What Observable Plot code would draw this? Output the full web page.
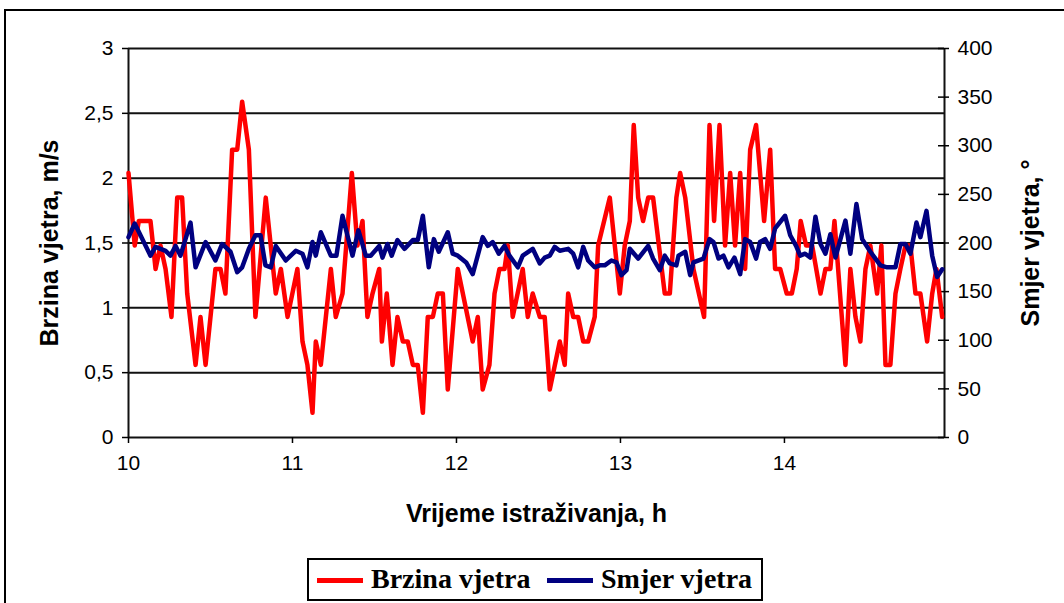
<!DOCTYPE html>
<html>
<head>
<meta charset="utf-8">
<script src="https://cdn.jsdelivr.net/npm/d3@7"></script>
<script src="https://cdn.jsdelivr.net/npm/@observablehq/plot@0.6"></script>
<style>
  html, body { margin: 0; padding: 0; background: #fff; }
  #wrap { position: relative; width: 1064px; height: 603px; overflow: hidden; background: #fff; }
  #frame { position: absolute; left: 4px; top: 9px; width: 1100px; height: 700px; border: 2px solid #000; box-sizing: border-box; }
  #chart { position: absolute; left: 0; top: 0; }
  #chart svg [aria-label="y-axis label"] text, #chart svg [aria-label="x-axis label"] text,
  #chart svg g[aria-label="y-axis label"], #chart svg g[aria-label="x-axis label"] { font-weight: bold; font-size: 25px; }
  #legend { position: absolute; left: 307px; top: 558px; width: 456px; height: 43px; border: 2px solid #000; box-sizing: border-box;
            font-family: "Liberation Serif", "Times New Roman", serif; font-weight: bold; font-size: 28px; color: #000; }
  .sw { position: absolute; top: 18px; width: 46px; height: 5px; }
  .lt { position: absolute; top: 2px; white-space: nowrap; line-height: 34px; }
</style>
</head>
<body>
<div id="wrap">
  <div id="frame"></div>
  <div id="chart"></div>
  <div id="legend"></div>
</div>
<script>
// Wind speed (m/s) — time in hours
const speedTime = [
  10.000,10.038,10.063,10.134,10.165,10.195,10.226,10.262,10.297,10.327,
  10.358,10.409,10.439,10.470,10.530,10.561,10.591,10.632,10.663,10.693,
  10.734,10.774,10.837,10.898,10.929,10.970,11.030,11.061,11.091,11.122,
  11.142,11.173,11.234,11.264,11.305,11.362,11.396,11.427,11.457,11.488,
  11.529,11.545,11.575,11.610,11.640,11.673,11.703,11.734,11.764,11.795,
  11.825,11.856,11.886,11.917,11.947,12.008,12.099,12.130,12.160,12.201,
  12.232,12.262,12.293,12.313,12.343,12.404,12.435,12.465,12.508,12.538,
  12.569,12.630,12.660,12.681,12.712,12.742,12.773,12.803,12.843,12.864,
  12.935,12.996,13.026,13.057,13.081,13.108,13.138,13.169,13.199,13.270,
  13.301,13.341,13.364,13.395,13.445,13.510,13.543,13.571,13.604,13.638,
  13.669,13.699,13.730,13.760,13.791,13.827,13.876,13.913,13.943,13.974,
  14.014,14.045,14.075,14.099,14.132,14.169,14.220,14.250,14.280,14.305,
  14.372,14.402,14.433,14.463,14.494,14.524,14.565,14.591,14.616,14.646,
  14.677,14.707,14.738,14.768,14.799,14.829,14.870,14.901,14.927,14.962
];
const speed = [
  2.04,1.48,1.67,1.67,1.30,1.48,1.30,0.93,1.85,1.85,
  1.11,0.56,0.93,0.56,1.30,1.30,1.11,2.22,2.22,2.59,
  2.22,0.93,1.85,1.11,1.30,0.93,1.30,0.74,0.56,0.19,
  0.74,0.56,1.30,0.93,1.11,2.04,1.48,1.67,0.93,1.11,
  1.30,0.74,1.11,0.56,0.93,0.74,0.74,0.56,0.56,0.19,
  0.93,0.93,1.11,1.11,0.37,1.30,0.74,0.93,0.37,0.56,
  1.11,1.30,1.30,1.48,0.93,1.30,0.93,1.11,0.93,0.93,
  0.37,0.74,0.56,1.11,0.93,0.93,0.74,0.74,0.93,1.48,
  1.85,1.11,1.48,1.67,2.41,1.85,1.67,1.85,1.85,1.11,
  1.11,1.85,2.04,1.85,1.30,0.93,2.41,1.67,2.41,1.48,
  2.04,1.48,2.04,1.30,2.22,2.41,1.67,2.22,1.30,1.30,
  1.11,1.11,1.30,1.67,1.48,1.48,1.11,1.30,1.30,1.67,
  0.56,1.30,0.93,0.74,1.30,1.48,1.11,1.48,0.56,0.56,
  1.11,1.30,1.48,1.48,1.11,1.11,0.74,1.11,1.30,0.93
];
// Wind direction (degrees) — time in hours
const dirTime = [
  10.000,10.038,10.134,10.165,10.226,10.256,10.287,10.317,10.378,10.409,
  10.470,10.530,10.571,10.622,10.663,10.693,10.734,10.774,10.805,10.835,
  10.868,10.898,10.959,11.020,11.061,11.091,11.122,11.142,11.173,11.234,
  11.268,11.305,11.366,11.402,11.447,11.477,11.529,11.549,11.579,11.605,
  11.640,11.683,11.734,11.764,11.795,11.831,11.862,11.892,11.947,11.977,
  12.008,12.059,12.099,12.160,12.191,12.221,12.258,12.293,12.323,12.374,
  12.404,12.465,12.508,12.538,12.569,12.599,12.630,12.681,12.712,12.742,
  12.773,12.803,12.843,12.874,12.904,12.945,12.976,13.006,13.037,13.057,
  13.108,13.169,13.199,13.240,13.270,13.301,13.341,13.354,13.395,13.425,
  13.445,13.506,13.543,13.567,13.598,13.628,13.659,13.695,13.730,13.760,
  13.791,13.827,13.851,13.882,13.913,13.943,14.004,14.035,14.071,14.096,
  14.126,14.157,14.189,14.220,14.250,14.280,14.311,14.372,14.402,14.439,
  14.474,14.524,14.585,14.626,14.677,14.707,14.738,14.768,14.805,14.829,
  14.866,14.901,14.931,14.962
];
const direction = [
  206,220,187,196,192,187,197,187,221,175,
  201,182,199,191,170,175,194,208,208,177,
  175,197,182,192,189,175,201,187,211,187,
  187,228,187,213,187,187,197,185,199,187,
  203,194,203,203,228,175,204,191,211,189,
  187,180,168,206,197,201,189,197,187,175,
  187,194,179,185,187,196,192,194,189,175,
  196,182,175,177,177,182,180,167,172,194,
  184,197,184,172,187,179,177,187,191,167,
  180,184,204,201,184,187,175,185,168,204,
  201,184,201,204,194,215,228,208,197,187,
  189,185,227,199,189,209,185,223,189,240,
  204,191,177,175,175,199,199,189,221,206,
  233,187,165,173
];
const xTicks = [10, 11, 12, 13, 14];
const xDomain = [10, 14.976];
const speedTicks = [0, 0.5, 1, 1.5, 2, 2.5, 3];
const dirTicks = [0, 50, 100, 150, 200, 250, 300, 350, 400];
const speedMax = 3, dirMax = 400;
const seriesNames = ["Brzina vjetra", "Smjer vjetra"];
const seriesColors = ["#FF0000", "#000080"];

const speedData = speedTime.map((t, i) => ({t, v: speed[i]}));
const dirData = dirTime.map((t, i) => ({t, v: direction[i] * speedMax / dirMax}));
const dirTickPos = dirTicks.map(d => d * speedMax / dirMax);
const comma = d => String(d).replace(".", ",");

const chart = Plot.plot({
  width: 1064,
  height: 555,
  marginLeft: 128,
  marginRight: 120,
  marginTop: 48,
  marginBottom: 118,
  style: {fontFamily: "'Liberation Sans', Arial, sans-serif", fontSize: "21px", color: "#000", background: "transparent"},
  x: {domain: xDomain},
  y: {domain: [0, speedMax]},
  marks: [
    Plot.ruleY(speedTicks, {stroke: "#111", strokeWidth: 2}),
    Plot.ruleX(xDomain, {stroke: "#111", strokeWidth: 2}),
    Plot.axisX({ticks: xTicks, tickSize: 6, tickPadding: 12, strokeWidth: 1.5, tickFormat: d => String(d),
                label: "Vrijeme istraživanja, h", labelAnchor: "center", labelOffset: 84, labelArrow: false}),
    Plot.axisY({anchor: "left", ticks: speedTicks, tickSize: 6, tickPadding: 9, strokeWidth: 1.5, tickFormat: comma,
                label: "Brzina vjetra, m/s", labelAnchor: "center", labelOffset: 88, labelArrow: false}),
    Plot.axisY({anchor: "right", ticks: dirTickPos, tickSize: 4, tickPadding: 9, strokeWidth: 1.5,
                tickFormat: d => String(Math.round(d * dirMax / speedMax)),
                label: "Smjer vjetra, °", labelAnchor: "center", labelOffset: 94, labelArrow: false}),
    Plot.axisY({anchor: "right", ticks: dirTickPos, tickSize: 7, dx: -7, strokeWidth: 1.5, tickFormat: () => "", label: null}),
    Plot.line(speedData, {x: "t", y: "v", stroke: seriesColors[0], strokeWidth: 4.5, strokeLinejoin: "round"}),
    Plot.line(dirData, {x: "t", y: "v", stroke: seriesColors[1], strokeWidth: 4.5, strokeLinejoin: "round"})
  ]
});
document.getElementById("chart").appendChild(chart);

const legend = document.getElementById("legend");
const pos = [{sw: 8, tx: 62}, {sw: 238, tx: 292}];
seriesNames.forEach((name, i) => {
  const sw = document.createElement("div");
  sw.className = "sw"; sw.style.left = pos[i].sw + "px"; sw.style.background = seriesColors[i];
  const tx = document.createElement("div");
  tx.className = "lt"; tx.style.left = pos[i].tx + "px"; tx.textContent = name;
  legend.appendChild(sw); legend.appendChild(tx);
});
</script>
</body>
</html>
